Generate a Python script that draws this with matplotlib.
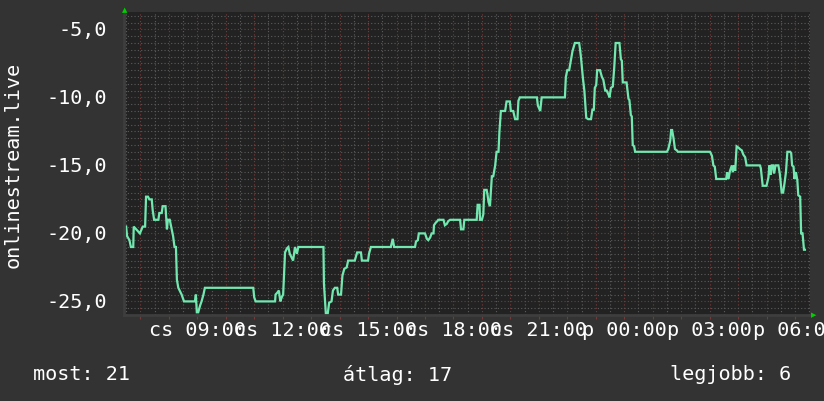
import matplotlib
matplotlib.use("Agg")
import matplotlib.pyplot as plt
from matplotlib.ticker import MultipleLocator, FixedLocator, FuncFormatter

# minutes from 00:00 of the first day, and the value
minutes = [390, 392, 397, 400, 405, 406, 419, 425, 430, 432, 436, 439, 444, 446,
           449, 458, 460, 465, 467, 473, 476, 478, 482, 486, 489, 492, 495, 497,
           500, 507, 512, 535, 537, 539, 542, 546, 549, 553, 556,
           658, 660, 663, 704, 705, 710, 712, 715, 718, 721, 725, 729, 732, 735,
           742, 746, 750, 753, 806, 807, 809, 811, 815, 818, 823, 826, 830, 835,
           837, 843, 846, 850, 855, 858, 872, 877, 885, 887, 900, 902, 906, 948,
           952, 955, 999, 1001, 1005, 1007, 1020, 1024, 1027, 1031, 1034, 1038,
           1039, 1043, 1046, 1048, 1059, 1062, 1066, 1069, 1073, 1094, 1096, 1101,
           1103, 1129, 1131, 1135, 1136, 1140, 1143, 1145, 1150, 1152, 1154, 1157,
           1161, 1164, 1168, 1171, 1175, 1177, 1180, 1189, 1192, 1199, 1201, 1206,
           1210, 1215, 1217, 1220, 1256, 1258, 1263, 1266, 1315, 1317, 1320, 1324,
           1327, 1331, 1336, 1345, 1347, 1349, 1353, 1356, 1360, 1364, 1370, 1373,
           1376, 1378, 1381, 1383, 1389, 1393, 1396, 1400, 1403, 1407, 1409, 1412,
           1416, 1419, 1422, 1430, 1433, 1435, 1437, 1445, 1449, 1451, 1454, 1456,
           1458, 1461, 1463, 1466, 1530, 1533, 1537, 1539, 1541, 1544, 1547, 1551,
           1553, 1621, 1625, 1628, 1631, 1634, 1655, 1657, 1660, 1663, 1667, 1669,
           1672, 1674, 1677, 1681, 1684, 1688, 1691, 1695, 1698, 1702, 1726, 1728,
           1732, 1740, 1744, 1746, 1749, 1751, 1754, 1756, 1759, 1765, 1768, 1772,
           1775, 1778, 1781, 1784, 1790, 1792, 1794, 1797, 1799, 1802, 1805, 1807,
           1811, 1813, 1816, 1819, 1821]
values = [-19.5, -20.2, -20.5, -21, -21, -19.5, -20, -19.5, -19.5, -17.3, -17.3,
          -17.5, -17.5, -18.3, -19, -19, -18.5, -18.5, -18, -18, -19.7, -19, -19,
          -19.7, -20.2, -21, -21, -23.4, -24, -24.5, -25, -25, -24.5, -25.8, -25.8,
          -25.3, -25, -24.5, -24,
          -24, -24.7, -25, -25, -24.5, -24.3, -24.2, -25, -24.7, -24.5, -21.4,
          -21.1, -21, -21.5, -22, -21, -21.5, -21, -21, -23.7, -24.8, -25.9, -25.9,
          -25.1, -25, -24.2, -24, -24, -24.5, -24.5, -23.1, -22.6, -22.5, -22, -22,
          -21.4, -21.4, -22, -22, -21.5, -21, -21, -20.4, -21, -21, -20.6, -20.5,
          -20, -20, -20.4, -20.5, -20.3, -20, -20, -19.4, -19.2, -19.1, -19, -19,
          -19.4, -19.3, -19.1, -19, -19, -19.7, -19.7, -19, -19, -17.9, -17.9, -19,
          -19, -18.6, -16.8, -16.8, -17.2, -17.7, -18, -15.8, -15.8, -15, -14, -14,
          -12.5, -11, -11, -10.3, -10.3, -11, -11, -11.6, -11.6, -10.25, -10, -10,
          -10.6, -11, -10, -10, -8.5, -8, -8, -7.4, -6.6, -6, -6, -6.5, -7.1, -8.6,
          -9.5, -11.5, -11.6, -11.6, -10.9, -10.9, -9.3, -9.1, -8, -8, -8.5, -8.7,
          -9.5, -9.5, -9.8, -10, -9.3, -9.2, -7.8, -6, -6, -7.2, -7.3, -8.9, -8.9,
          -10.1, -10.2, -11.3, -11.4, -13.5, -13.6, -14, -14, -14, -13.8, -13.2,
          -12.4, -12.4, -13, -13.8, -13.9, -14, -14, -14.3, -15, -15.1, -16, -16,
          -15.5, -16, -15.4, -15, -15.5, -15, -15.4, -13.6, -13.7, -13.8, -13.9,
          -14.2, -14.4, -15, -15, -15, -15.2, -16.5, -16.5, -15.9, -15, -15.7, -15,
          -15, -15.6, -15, -15, -15.6, -17, -17, -16.3, -15.5, -14, -14, -14.1, -15,
          -15.1, -16, -15.5, -16.1, -17.2, -17.3, -20, -20, -21.2, -21.2]

label_minutes = [540, 720, 900, 1080, 1260, 1440, 1620, 1800]
label_texts = ["cs 09:00", "cs 12:00", "cs 15:00", "cs 18:00", "cs 21:00",
               "p 00:00", "p 03:00", "p 06:00"]
y_ticks = [-25, -20, -15, -10, -5]
series_name = "onlinestream.live"
summary = ["most: 21", "átlag: 17", "legjobb: 6"]

BG = "#333333"
PLOT_BG = "#222222"
FG = "#ffffff"
LINE = "#72e8b0"
MINOR = "#5c5c5c"
MAJOR = "#7a3838"
FONT = "DejaVu Sans Mono"
FS = 14.5

W, H = 824, 402
fig = plt.figure(figsize=(W / 100, H / 100), dpi=100, facecolor=BG)
left, right, top, bottom = 124, 810, 12.7, 316
ax = fig.add_axes([left / W, 1 - bottom / H, (right - left) / W, (bottom - top) / H])
ax.set_facecolor(PLOT_BG)

ax.set_xlim(385.5, 1831.7)
ax.set_ylim(-26.0, -3.7)

ax.xaxis.set_major_locator(MultipleLocator(60))
ax.xaxis.set_minor_locator(MultipleLocator(30))
ax.yaxis.set_major_locator(MultipleLocator(5))
ax.yaxis.set_minor_locator(MultipleLocator(0.5))
ax.grid(which="minor", color=MINOR, linestyle=(0, (1, 2)), linewidth=0.8)
ax.grid(which="major", color=MAJOR, linestyle=(0, (1, 2)), linewidth=0.8)
ax.set_axisbelow(True)

ax.tick_params(which="both", left=False, labelleft=False, labelbottom=False)
ax.tick_params(which="major", axis="x", bottom=True, length=3, color=MAJOR,
               direction="out", width=0.8)
ax.tick_params(which="minor", axis="x", bottom=False)

for s in ["top", "right"]:
    ax.spines[s].set_visible(False)
for s in ["left", "bottom"]:
    ax.spines[s].set_color("#3e3e3e")
    ax.spines[s].set_linewidth(2)

ax.plot(minutes, values, color=LINE, linewidth=1.6, solid_joinstyle="miter")

# tick labels drawn as figure text so they can overlap like the original
for m, t in zip(label_minutes, label_texts):
    xd = ax.transData.transform((m, 0))[0]
    fig.text(xd / W, 1 - 331 / H, t, color=FG, family=FONT, fontsize=FS,
             ha="center", va="center")
for v in y_ticks:
    yd = ax.transData.transform((0, v))[1]
    fig.text(107 / W, yd / H, ("%.1f" % v).replace(".", ","), color=FG,
             family=FONT, fontsize=FS, ha="right", va="center")

fig.text(13 / W, 1 - 165 / H, series_name, color=FG, family=FONT, fontsize=FS,
         rotation=90, ha="center", va="center")

fig.text(33 / W, 1 - 375 / H, summary[0], color=FG, family=FONT, fontsize=FS,
         ha="left", va="center")
fig.text(398 / W, 1 - 375 / H, summary[1], color=FG, family=FONT, fontsize=FS,
         ha="center", va="center")
fig.text(791 / W, 1 - 375 / H, summary[2], color=FG, family=FONT, fontsize=FS,
         ha="right", va="center")

# small green arrows at the ends of the axes
fig.text(125 / W, 1 - 10 / H, "\u25b2", color="#00d000", fontsize=5,
         ha="center", va="center")
fig.text(814 / W, 1 - 315 / H, "\u25b6", color="#00d000", fontsize=5,
         ha="center", va="center")

fig.savefig("out.png", dpi=100, facecolor=BG)
